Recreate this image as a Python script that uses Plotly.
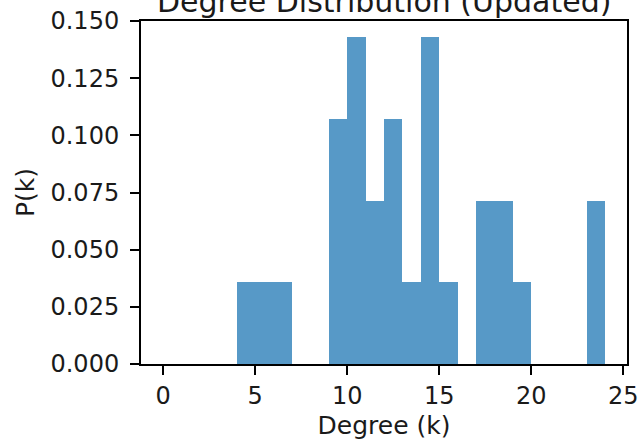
import plotly.graph_objects as go

# Degree values (left bin edge k) and number of nodes having that degree
degrees = [4, 5, 6, 9, 10, 11, 12, 13, 14, 15, 17, 18, 19, 23]
counts = [1, 1, 1, 3, 4, 2, 3, 1, 4, 1, 2, 2, 1, 2]
total = sum(counts)
pk = [c / total for c in counts]

x_ticks = [0, 5, 10, 15, 20, 25]
y_ticks = [0.0, 0.025, 0.05, 0.075, 0.1, 0.125, 0.15]

FONT = "DejaVu Sans"
FS_TICK = 24
FS_LABEL = 25
TXT = "#1a1a1a"

fig = go.Figure()
fig.add_trace(go.Bar(
    x=degrees, y=pk, width=1, offset=0,
    marker=dict(color="rgba(31,119,180,0.75)", line=dict(width=0)),
    showlegend=False,
))

axis_common = dict(
    showline=True, mirror=True, linecolor="black", linewidth=2,
    ticks="outside", ticklen=9, tickwidth=2, tickcolor="black",
    showgrid=False, zeroline=False, automargin=False,
    tickfont=dict(family=FONT, size=FS_TICK, color=TXT),
)

fig.update_layout(
    width=640, height=442,
    margin=dict(l=141, r=13, t=21, b=78),
    plot_bgcolor="white", paper_bgcolor="white",
    bargap=0,
    xaxis=dict(range=[-1.2, 25.2], tickvals=x_ticks, ticklabelstandoff=0,
               title=dict(text="Degree (k)", font=dict(family=FONT, size=FS_LABEL, color=TXT), standoff=8),
               **axis_common),
    yaxis=dict(range=[0, 0.15], tickvals=y_ticks, tickformat=".3f", ticklabelstandoff=6,
               title=dict(text="P(k)", font=dict(family=FONT, size=FS_LABEL, color=TXT), standoff=9),
               **axis_common),
    annotations=[dict(
        text="Degree Distribution (Updated)", xref="paper", yref="paper",
        x=0.5, y=1, xanchor="center", yanchor="bottom", yshift=0,
        showarrow=False, font=dict(family=FONT, size=30, color=TXT),
    )],
)

fig.write_html("out.html")
